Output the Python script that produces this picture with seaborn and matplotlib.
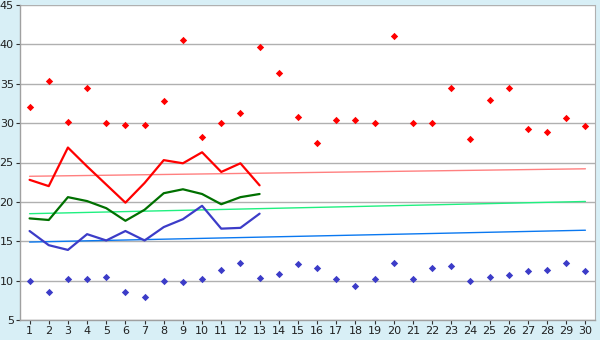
import matplotlib
matplotlib.use("Agg")
import matplotlib.pyplot as plt
import seaborn as sns
import pandas as pd

days = list(range(1, 31))
max_vals = [32.0, 35.3, 30.1, 34.5, 30.0, 29.7, 29.7, 32.8, 40.6, 28.3,
            30.0, 31.3, 39.7, 36.4, 30.8, 27.5, 30.4, 30.4, 30.0, 41.1,
            30.0, 30.0, 34.4, 28.0, 32.9, 34.4, 29.3, 28.9, 30.7, 29.6]
min_vals = [9.9, 8.6, 10.2, 10.2, 10.5, 8.6, 7.9, 9.9, 9.8, 10.2,
            11.4, 12.2, 10.3, 10.8, 12.1, 11.6, 10.2, 9.3, 10.2, 12.3,
            10.2, 11.6, 11.8, 9.9, 10.4, 10.7, 11.2, 11.3, 12.3, 11.2]
line_days = list(range(1, 14))
red_line = [22.8, 22.0, 26.9, 24.5, 22.2, 19.9, 22.4, 25.3, 24.9, 26.3, 23.8, 24.9, 22.1]
green_line = [17.9, 17.7, 20.6, 20.1, 19.2, 17.6, 19.0, 21.1, 21.6, 21.0, 19.7, 20.6, 21.0]
blue_line = [16.3, 14.5, 13.9, 15.9, 15.1, 16.3, 15.1, 16.8, 17.8, 19.5, 16.6, 16.7, 18.5]
trend_days = [1, 30]
red_trend = [23.25, 24.2]
green_trend = [18.5, 20.05]
blue_trend = [14.9, 16.4]
y_ticks = [5, 10, 15, 20, 25, 30, 35, 40, 45]

sns.set_style("white")
plt.rcParams['font.family'] = ['DejaVu Sans']

fig = plt.figure(figsize=(6, 3.4), dpi=100)
bg = "#d8eff6"
fig.patch.set_facecolor(bg)
ax = fig.add_axes([20/600, 1-320/340, 575/600, 315/340])
ax.set_facecolor("white")

for yv in y_ticks:
    ax.axhline(yv, color="#b0b0b0", lw=1.0, zorder=0)

sns.lineplot(x=trend_days, y=red_trend, color="#ff8080", lw=1.0, ax=ax)
sns.lineplot(x=trend_days, y=green_trend, color="#20f080", lw=1.0, ax=ax)
sns.lineplot(x=trend_days, y=blue_trend, color="#0a78f0", lw=1.0, ax=ax)

sns.lineplot(x=line_days, y=red_line, color="#ff0000", lw=1.6, ax=ax)
sns.lineplot(x=line_days, y=green_line, color="#007000", lw=1.6, ax=ax)
sns.lineplot(x=line_days, y=blue_line, color="#3c3cc8", lw=1.6, ax=ax)

sns.scatterplot(x=days, y=max_vals, color="#ff0000", marker="D", s=14, linewidth=0, ax=ax, zorder=5)
sns.scatterplot(x=days, y=min_vals, color="#3c3cc8", marker="D", s=14, linewidth=0, ax=ax, zorder=5)

ax.set_xlim(0.5, 30.5)
ax.set_ylim(5, 45)
ax.set_xticks(days)
ax.set_xticklabels([str(d) for d in days])
ax.set_yticks(y_ticks)
ax.tick_params(axis="both", labelsize=8, length=3, color="#303030", direction="out",
               bottom=True, left=True, pad=1.5, labelcolor="#202020")
for side in ["left", "bottom"]:
    ax.spines[side].set_color("#a0a0a0")
    ax.spines[side].set_linewidth(1.0)
ax.spines["right"].set_color("#b0b0b0")
ax.spines["top"].set_visible(False)
ax.set_xlabel("")
ax.set_ylabel("")

fig.savefig("out.png", dpi=100, facecolor=bg)
